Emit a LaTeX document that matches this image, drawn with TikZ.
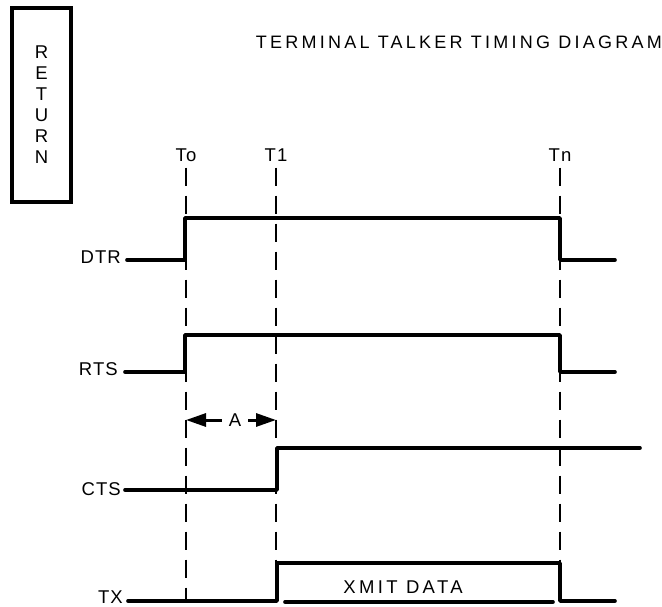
\documentclass[tikz,border=0pt]{standalone}
\usepackage{fontspec}
\setmainfont{Liberation Sans}
\newfontfamily\sinalfont{Liberation Sans}[LetterSpace=6]
\newfontfamily\largofont{Liberation Sans}[LetterSpace=18]
\usetikzlibrary{arrows.meta}

\begin{document}
\begin{tikzpicture}[x=1pt,y=-1pt,
  sinal/.style={line width=3.6pt, line cap=round, line join=round},
  tempo/.style={line width=2.8pt, dash pattern=on 18pt off 10pt},
  rotulo/.style={font=\fontsize{18.5}{21}\sinalfont, inner sep=0pt},
  seta/.style={line width=3pt, -{Triangle[length=20pt, width=13pt]}}]
\useasboundingbox (0,0) rectangle (662,607);

% Botão RETURN
\node[draw, line width=3.2pt, minimum width=59pt, minimum height=194pt, inner sep=0pt,
  align=center, font=\fontsize{18.5}{21}\selectfont] (ret) at (41.5,105) {R\\E\\T\\U\\R\\N};

% Título
\node[font=\fontsize{18}{20}\largofont, inner sep=0pt, anchor=east] (titulo) at (662,42)
  {TERMINAL TALKER TIMING DIAGRAM};

% Linhas de tempo
\foreach \t/\x/\nome in {To/186/o, T1/276/1, Tn/560/n} {
    \node[rotulo] (t\nome) at (\x,155) {\t};
    \coordinate (b\nome) at (\x,601);
    \draw[tempo] ([yshift=-6pt]t\nome.south) -- (b\nome);
}

% Sinais
\draw[sinal] (127,260) -- (185,260) -- (185,218) -- (560,218) -- (560,260) -- (615,260);
\draw[sinal] (125,372) -- (185,372) -- (185,335) -- (560,335) -- (560,372) -- (615,372);
\draw[sinal] (125,490) -- (277,490) -- (277,448) -- (640,448);
\draw[sinal] (128,601) -- (277,601) -- (277,563) -- (560,563) -- (560,601) -- (615,601);
\draw[sinal] (285,602) -- (553,602);

% Rótulos dos sinais
\node[rotulo, anchor=base east] (dtr) at (121,263) {DTR};
\node[rotulo, anchor=base east] (rts) at (118,375) {RTS};
\node[rotulo, anchor=base east] (cts) at (121,495) {CTS};
\node[rotulo, anchor=base east] (tx) at (123,603) {TX};
\node[font=\fontsize{18.5}{21}\largofont, inner sep=0pt] (xmit) at (403,587) {XMIT DATA};

% Intervalo A
\coordinate (a0) at (186,420);
\coordinate (a1) at (276,420);
\node[rotulo, inner sep=7pt] (A) at (235,420) {A};
\draw[seta] (A.west) -- (a0);
\draw[seta] (A.east) -- (a1);
\end{tikzpicture}
\end{document}
